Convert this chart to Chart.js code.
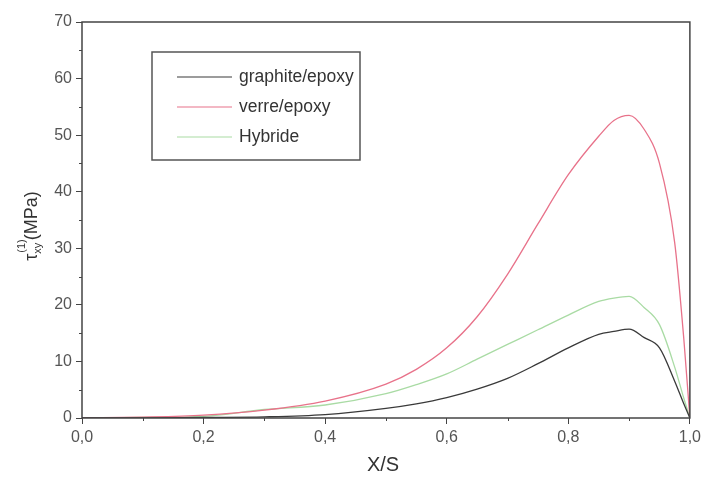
<!doctype html>
<html>
<head>
<meta charset="utf-8">
<title>tau xy</title>
<script src="https://cdn.jsdelivr.net/npm/chart.js@4"></script>
<style>
  html, body { margin: 0; padding: 0; background: #fff; }
  #wrap { width: 705px; height: 480px; }
</style>
</head>
<body>
<div id="wrap"><canvas id="myChart" width="705" height="480"></canvas></div>
<script>
  // X/S positions and shear stress values (MPa)
  const xPos = [0, 0.1, 0.2, 0.3, 0.4, 0.5, 0.55, 0.6, 0.65, 0.7, 0.75, 0.8, 0.85, 0.875, 0.9, 0.925, 0.95, 0.975, 0.99, 1.0];
  const graphite = [0, 0, 0.1, 0.2, 0.6, 1.7, 2.5, 3.6, 5.1, 7.0, 9.6, 12.4, 14.8, 15.3, 15.7, 14.2, 12.4, 6.5, 2.5, 0];
  const verre = [0, 0.15, 0.5, 1.4, 3.0, 6.0, 8.6, 12.4, 17.9, 25.4, 34.3, 43.0, 49.8, 52.6, 53.5, 51.0, 45.0, 31.0, 14.0, 0];
  const hybride = [0, 0.1, 0.3, 1.5, 2.3, 4.3, 5.9, 7.8, 10.4, 13.0, 15.6, 18.2, 20.6, 21.2, 21.5, 19.5, 16.5, 9.0, 3.5, 0];
  const seriesNames = ['graphite/epoxy', 'verre/epoxy', 'Hybride'];
  const seriesColors = ['#3a3a3a', '#e8728a', '#a9dba4'];
  const yTicks = [0, 10, 20, 30, 40, 50, 60, 70];
  const xTicks = [0, 0.2, 0.4, 0.6, 0.8, 1.0];

  const toPts = (ys) => xPos.map((x, i) => ({ x: x, y: ys[i] }));
  const axisColor = '#444';
  const fontFam = '"Liberation Sans", Arial, sans-serif';

  // frame, minor ticks, legend box and axis titles
  const extras = {
    id: 'extras',
    afterDraw(chart) {
      const c = chart.ctx;
      const a = chart.chartArea;
      const xs = chart.scales.x, ys = chart.scales.y;
      c.save();
      c.strokeStyle = axisColor;
      c.lineWidth = 1.5;
      c.strokeRect(a.left, a.top, a.right - a.left, a.bottom - a.top);

      c.lineWidth = 1;
      for (let v = 5; v < 70; v += 10) {
        const p = Math.round(ys.getPixelForValue(v)) + 0.5;
        c.beginPath(); c.moveTo(a.left - 3, p); c.lineTo(a.left, p); c.stroke();
      }
      for (let v = 0.1; v < 1; v += 0.2) {
        const p = Math.round(xs.getPixelForValue(v)) + 0.5;
        c.beginPath(); c.moveTo(p, a.bottom); c.lineTo(p, a.bottom + 3); c.stroke();
      }

      // legend
      c.lineWidth = 1.5;
      c.strokeStyle = '#555';
      c.strokeRect(152, 52, 208, 108);
      c.font = '17.5px ' + fontFam;
      c.textBaseline = 'middle';
      c.textAlign = 'left';
      seriesNames.forEach((n, i) => {
        const y = 77 + i * 30;
        c.strokeStyle = seriesColors[i];
        c.lineWidth = 1.2;
        c.beginPath(); c.moveTo(177, y); c.lineTo(232, y); c.stroke();
        c.fillStyle = '#333';
        c.fillText(n, 239, y);
      });

      // x title
      c.fillStyle = '#333';
      c.font = '20px ' + fontFam;
      c.textAlign = 'center';
      c.textBaseline = 'middle';
      c.fillText('X/S', 383, 465);

      // y title with sub / superscript
      c.translate(30, 226);
      c.rotate(-Math.PI / 2);
      c.textAlign = 'left';
      c.textBaseline = 'alphabetic';
      const big = '18px ' + fontFam;
      const small = '11px ' + fontFam;
      c.font = big;
      const w1 = c.measureText('τ').width;
      c.font = small;
      const w2 = c.measureText('xy').width;
      const w3 = c.measureText('(1)').width;
      c.font = big;
      const w4 = c.measureText('(MPa)').width;
      let x = -(w1 + Math.max(w2, w3) + w4) / 2;
      c.fillText('τ', x, 7);
      x += w1;
      c.font = small;
      c.fillText('xy', x, 11);
      c.fillText('(1)', x + 1, -5);
      x += Math.max(w2, w3);
      c.font = big;
      c.fillText('(MPa)', x, 7);
      c.restore();
    }
  };

  const ctx = document.getElementById('myChart').getContext('2d');
  const myChart = new Chart(ctx, {
    type: 'line',
    data: {
      datasets: [
        { label: seriesNames[0], data: toPts(graphite), borderColor: seriesColors[0] },
        { label: seriesNames[1], data: toPts(verre), borderColor: seriesColors[1] },
        { label: seriesNames[2], data: toPts(hybride), borderColor: seriesColors[2] }
      ].map(d => Object.assign(d, { borderWidth: 1.3, pointRadius: 0, cubicInterpolationMode: 'monotone', fill: false }))
    },
    options: {
      responsive: false,
      animation: false,
      layout: { padding: { top: 22, right: 8 } },
      plugins: { legend: { display: false }, tooltip: { enabled: false } },
      scales: {
        x: {
          type: 'linear', min: 0, max: 1,
          afterFit: (s) => { s.height = 62; },
          afterBuildTicks: (s) => { s.ticks = xTicks.map(v => ({ value: v })); },
          border: { display: false },
          grid: { drawOnChartArea: false, tickLength: 6, tickColor: axisColor, tickWidth: 1 },
          ticks: {
            padding: 4, color: '#555', maxRotation: 0,
            font: { family: fontFam, size: 16 },
            callback: (v) => Number(v).toFixed(1).replace('.', ',')
          }
        },
        y: {
          min: 0, max: 70,
          afterFit: (s) => { s.width = 82; },
          afterBuildTicks: (s) => { s.ticks = yTicks.map(v => ({ value: v })); },
          border: { display: false },
          grid: { drawOnChartArea: false, tickLength: 6, tickColor: axisColor, tickWidth: 1 },
          ticks: {
            padding: 4, color: '#555',
            font: { family: fontFam, size: 16 }
          }
        }
      }
    },
    plugins: [extras]
  });
</script>
</body>
</html>
